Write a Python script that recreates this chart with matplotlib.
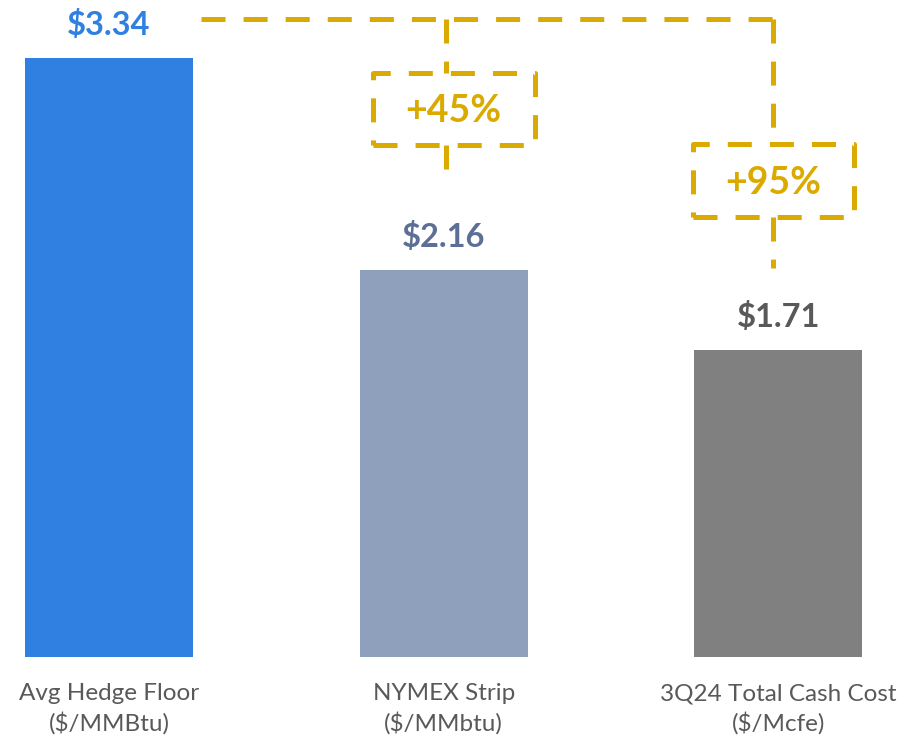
import matplotlib
matplotlib.use("Agg")
import matplotlib.pyplot as plt
from matplotlib.patches import Rectangle

plt.rcParams['font.family'] = ['Lato', 'DejaVu Sans']
plt.rcParams['lines.scale_dashes'] = False

# ---- data ----
categories = ["Avg Hedge Floor\n($/MMBtu)", "NYMEX Strip\n($/MMbtu)", "3Q24 Total Cash Cost\n($/Mcfe)"]
values = [3.34, 2.16, 1.71]
value_labels = ["$3.34", "$2.16", "$1.71"]
pct_labels = ["+45%", "+95%"]

bar_colors = ["#2F80E1", "#8EA0BC", "#808080"]
label_colors = ["#2F80E1", "#5B6F97", "#595959"]
gold = "#DBAA00"
cat_color = "#595959"

fig = plt.figure(figsize=(9.04, 7.44), dpi=100)
ax = fig.add_axes([0, 0, 1, 1])
W, H = 904, 744
# pixel-to-data scale
sx = 334.7   # px per category step
sy = 179.3   # px per $ unit
x0px, y0px = 109, 657
ax.set_xlim(-x0px / sx, (W - x0px) / sx)
ax.set_ylim(-(H - y0px) / sy, y0px / sy)
ax.axis('off')

px = lambda p: p / sx
py = lambda p: p / sy

xs = list(range(len(values)))
bw = 168 / sx
ax.bar(xs, values, width=bw, color=bar_colors, zorder=2)

for x, v, lab, c in zip(xs, values, value_labels, label_colors):
    ax.text(x, v + py(33), lab, ha='center', va='center', fontsize=23.5,
            fontweight='bold', color=c)

for x, cat in zip(xs, categories):
    ax.text(x, -py(52), cat, ha='center', va='center', fontsize=17.5,
            color=cat_color, linespacing=1.38)

# ---- connector dashed lines ----
dash = (0, (17.3, 13.0))
lw = 3.6
top_y = values[0] + py(638 - 599)
line_kw = dict(color=gold, lw=lw, linestyle=dash, solid_capstyle='butt',
               dash_capstyle='butt', zorder=3)

x_start = xs[0] + bw / 2 + px(8)
x_v1 = xs[1] + px(2)
x_v2 = xs[2] - px(5)
ax.plot([x_start, x_v2], [top_y, top_y], **line_kw)

boxes = [
    dict(xv=x_v1, bx=xs[1] + px(10), btop=values[1] + py(197), bh=py(72), bwid=px(162),
         end=values[1] + py(97)),
    dict(xv=x_v2, bx=xs[2] - px(5), btop=values[2] + py(206), bh=py(73), bwid=px(161),
         end=values[2] + py(82)),
]
for b, lab in zip(boxes, pct_labels):
    ax.plot([b['xv'], b['xv']], [top_y, b['btop']], **line_kw)
    ax.plot([b['xv'], b['xv']], [b['btop'] - b['bh'], b['end']], **line_kw)
    rect = Rectangle((b['bx'] - b['bwid'] / 2, b['btop'] - b['bh']), b['bwid'], b['bh'],
                     fill=False, edgecolor=gold, lw=lw, linestyle=dash,
                     joinstyle='round', zorder=3)
    ax.add_patch(rect)
    ax.text(b['bx'], b['btop'] - b['bh'] / 2 - py(2), lab, ha='center', va='center',
            fontsize=27, fontweight='bold', color=gold, zorder=4)

fig.savefig("out.png", dpi=100)
